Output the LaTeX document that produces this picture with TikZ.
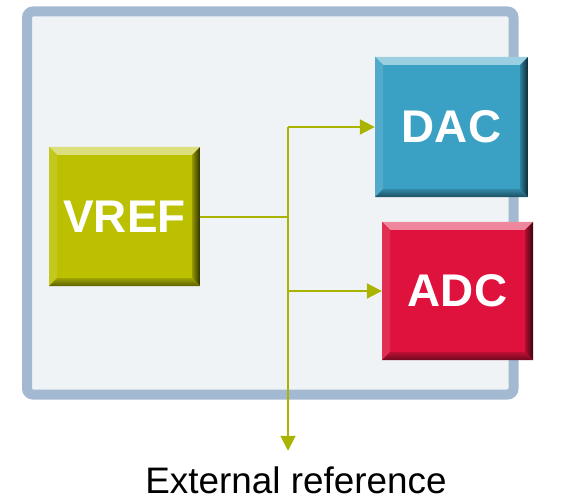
\documentclass[tikz,border=0pt]{standalone}
\usepackage{fontspec}
\setmainfont{Liberation Sans}
\usetikzlibrary{positioning, arrows.meta}
\definecolor{VrefOlive}{RGB}{187,192,0}
\definecolor{DacBlue}{RGB}{58,160,196}
\definecolor{AdcRed}{RGB}{222,18,60}
\definecolor{WireOlive}{RGB}{170,180,0}
\definecolor{FrameBlue}{RGB}{163,184,209}
\definecolor{PanelGray}{RGB}{240,243,246}

\tikzset{
  chip/.style={rectangle, fill=#1, text=white, inner sep=0pt,
    font=\fontsize{46}{50}\selectfont\bfseries,
    path picture={
      % bevel: top, left, right, bottom
      \shade[top color=#1!50!white, bottom color=#1!80!white] (path picture bounding box.north west) -- (path picture bounding box.north east)
        -- ([shift={(-8bp,-8bp)}]path picture bounding box.north east) -- ([shift={(8bp,-8bp)}]path picture bounding box.north west) -- cycle;
      \fill[#1!88!white] (path picture bounding box.north west) -- ([shift={(8bp,-8bp)}]path picture bounding box.north west)
        -- ([shift={(8bp,8bp)}]path picture bounding box.south west) -- (path picture bounding box.south west) -- cycle;
      \shade[left color=#1!80!black, right color=#1!25!black] (path picture bounding box.north east) -- ([shift={(-8bp,-8bp)}]path picture bounding box.north east)
        -- ([shift={(-8bp,8bp)}]path picture bounding box.south east) -- (path picture bounding box.south east) -- cycle;
      \shade[top color=#1!85!black, bottom color=#1!50!black] (path picture bounding box.south west) -- ([shift={(8bp,8bp)}]path picture bounding box.south west)
        -- ([shift={(-8bp,8bp)}]path picture bounding box.south east) -- (path picture bounding box.south east) -- cycle;
    }},
  wire/.style={WireOlive, line width=2bp},
  tip/.style={-{Triangle[length=15bp, width=15bp]}},
}

\begin{document}
\begin{tikzpicture}[x=1bp, y=-1bp]
  \useasboundingbox (0,0) rectangle (576,500);

  % Panel
  \draw[FrameBlue, line width=10bp, fill=PanelGray, rounded corners=6bp] (27,11.5) rectangle (513.5,394.5);

  % Blocks
  \node[chip=VrefOlive, minimum width=151bp, minimum height=139bp] (vref) at (124.5,216.5) {VREF};
  \node[chip=DacBlue, minimum width=153bp, minimum height=140bp] (dac) at (451.5,127) {DAC};
  \node[chip=AdcRed, minimum width=151bp, minimum height=138bp] (adc) at (457.5,291) {ADC};

  \node[font=\fontsize{37}{40}\selectfont, anchor=base] (ext) at (296,493) {External reference};

  % Wires
  \coordinate (tapdac) at (288,127);
  \coordinate (tapadc) at (288,291);
  \draw[wire] (vref.east) -- (vref.east -| tapdac);
  \draw[wire, tip] (tapdac) -- (dac.west);
  \draw[wire, tip] (tapadc) -- (adc.west);
  \draw[wire, tip] (tapdac) -- ([yshift=12bp]ext.north -| tapdac);
\end{tikzpicture}
\end{document}
